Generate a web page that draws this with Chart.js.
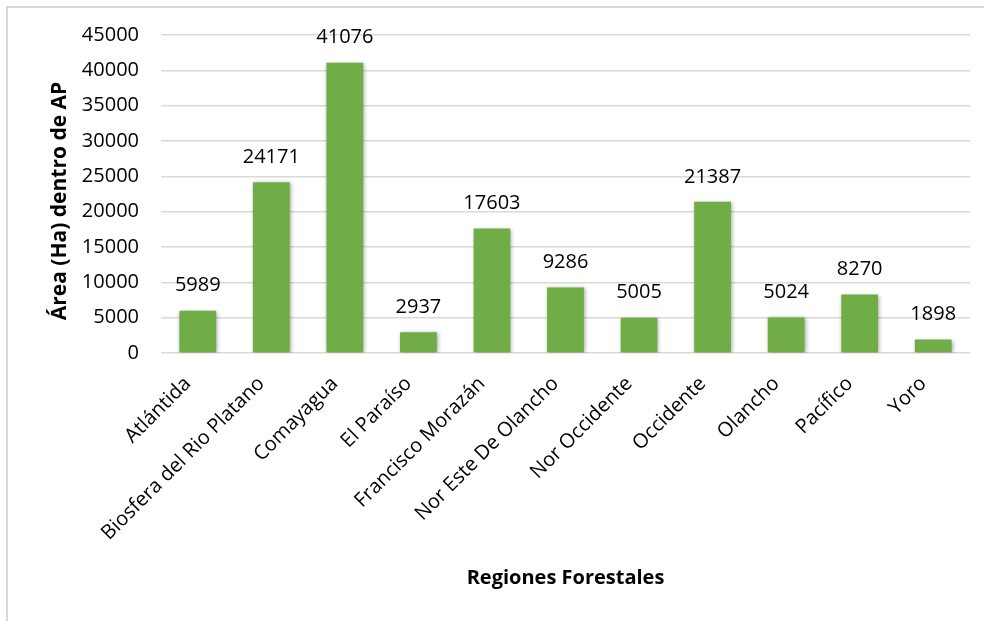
<!DOCTYPE html>
<html>
<head>
<meta charset="utf-8">
<script src="https://cdn.jsdelivr.net/npm/chart.js@4/dist/chart.umd.min.js"></script>
<style>
  html, body { margin: 0; padding: 0; background: #fff; overflow: hidden; }
  #wrap { position: relative; width: 984px; height: 621px; }
  #frame { position: absolute; left: 6px; top: 6px; width: 990px; height: 630px; border: 2px solid #d9d9d9; box-sizing: border-box; }
  canvas { position: absolute; left: 0; top: 0; }
</style>
</head>
<body>
<div id="wrap">
  <div id="frame"></div>
  <canvas id="chart" width="984" height="621"></canvas>
</div>
<script>
const REGIONES = [
  'Atlántida', 'Biosfera del Rio Platano', 'Comayagua', 'El Paraíso', 'Francisco Morazán',
  'Nor Este De Olancho', 'Nor Occidente', 'Occidente', 'Olancho', 'Pacífico', 'Yoro'
];
const AREA_HA = [5989, 24171, 41076, 2937, 17603, 9286, 5005, 21387, 5024, 8270, 1898];
const Y_TICKS = [0, 5000, 10000, 15000, 20000, 25000, 30000, 35000, 40000, 45000];

const FONT = '"Open Sans", "Noto Sans", sans-serif';

// etiquetas de valor encima de cada barra
const valueLabels = {
  id: 'valueLabels',
  afterDatasetsDraw(chart) {
    const ctx = chart.ctx;
    const meta = chart.getDatasetMeta(0);
    ctx.save();
    ctx.font = `20px ${FONT}`;
    ctx.fillStyle = '#000';
    ctx.textAlign = 'center';
    ctx.textBaseline = 'bottom';
    meta.data.forEach((bar, i) => {
      ctx.fillText(String(AREA_HA[i]), bar.x, bar.y - 15);
    });
    ctx.restore();
  }
};

// sombra suave de las barras
const barShadow = {
  id: 'barShadow',
  beforeDatasetsDraw(chart) {
    const ctx = chart.ctx;
    ctx.save();
    ctx.shadowColor = 'rgba(0,0,0,0.35)';
    ctx.shadowBlur = 4;
    ctx.shadowOffsetX = 1;
    ctx.shadowOffsetY = 1;
  },
  afterDatasetsDraw(chart) {
    chart.ctx.restore();
  }
};

// títulos de ejes
const axisTitles = {
  id: 'axisTitles',
  afterDraw(chart) {
    const ctx = chart.ctx;
    const a = chart.chartArea;
    ctx.save();
    ctx.fillStyle = '#000';
    ctx.textAlign = 'center';
    ctx.textBaseline = 'middle';
    ctx.font = `bold 20px ${FONT}`;
    ctx.fillText('Regiones Forestales', (a.left + a.right) / 2, 578);
    ctx.font = `bold 21px ${FONT}`;
    ctx.translate(60, 201);
    ctx.rotate(-Math.PI / 2);
    ctx.fillText('Área (Ha) dentro de AP', 0, 0);
    ctx.restore();
  }
};

new Chart(document.getElementById('chart'), {
  type: 'bar',
  data: {
    labels: REGIONES,
    datasets: [{
      data: AREA_HA,
      backgroundColor: '#70ad47',
      borderWidth: 0,
      categoryPercentage: 1,
      barPercentage: 0.5
    }]
  },
  options: {
    responsive: false,
    animation: false,
    layout: { padding: { left: 0, top: 35, right: 14, bottom: 0 } },
    plugins: {
      legend: { display: false },
      tooltip: { enabled: false }
    },
    scales: {
      x: {
        grid: { display: false },
        border: { display: false },
        ticks: {
          color: '#000',
          font: { family: FONT, size: 20 },
          minRotation: 45,
          maxRotation: 45,
          padding: 11,
          labelOffset: -10,
          autoSkip: false
        },
        afterFit(scale) { scale.height = 268; }
      },
      y: {
        min: 0,
        max: 45000,
        afterBuildTicks(scale) { scale.ticks = Y_TICKS.map(v => ({ value: v })); },
        grid: { color: '#d9d9d9', lineWidth: 1.5, drawTicks: false },
        border: { display: false },
        ticks: {
          color: '#000',
          font: { family: FONT, size: 20 },
          padding: 22,
          callback: v => String(v)
        },
        afterFit(scale) { scale.width = 161; }
      }
    }
  },
  plugins: [barShadow, valueLabels, axisTitles]
});
</script>
</body>
</html>
